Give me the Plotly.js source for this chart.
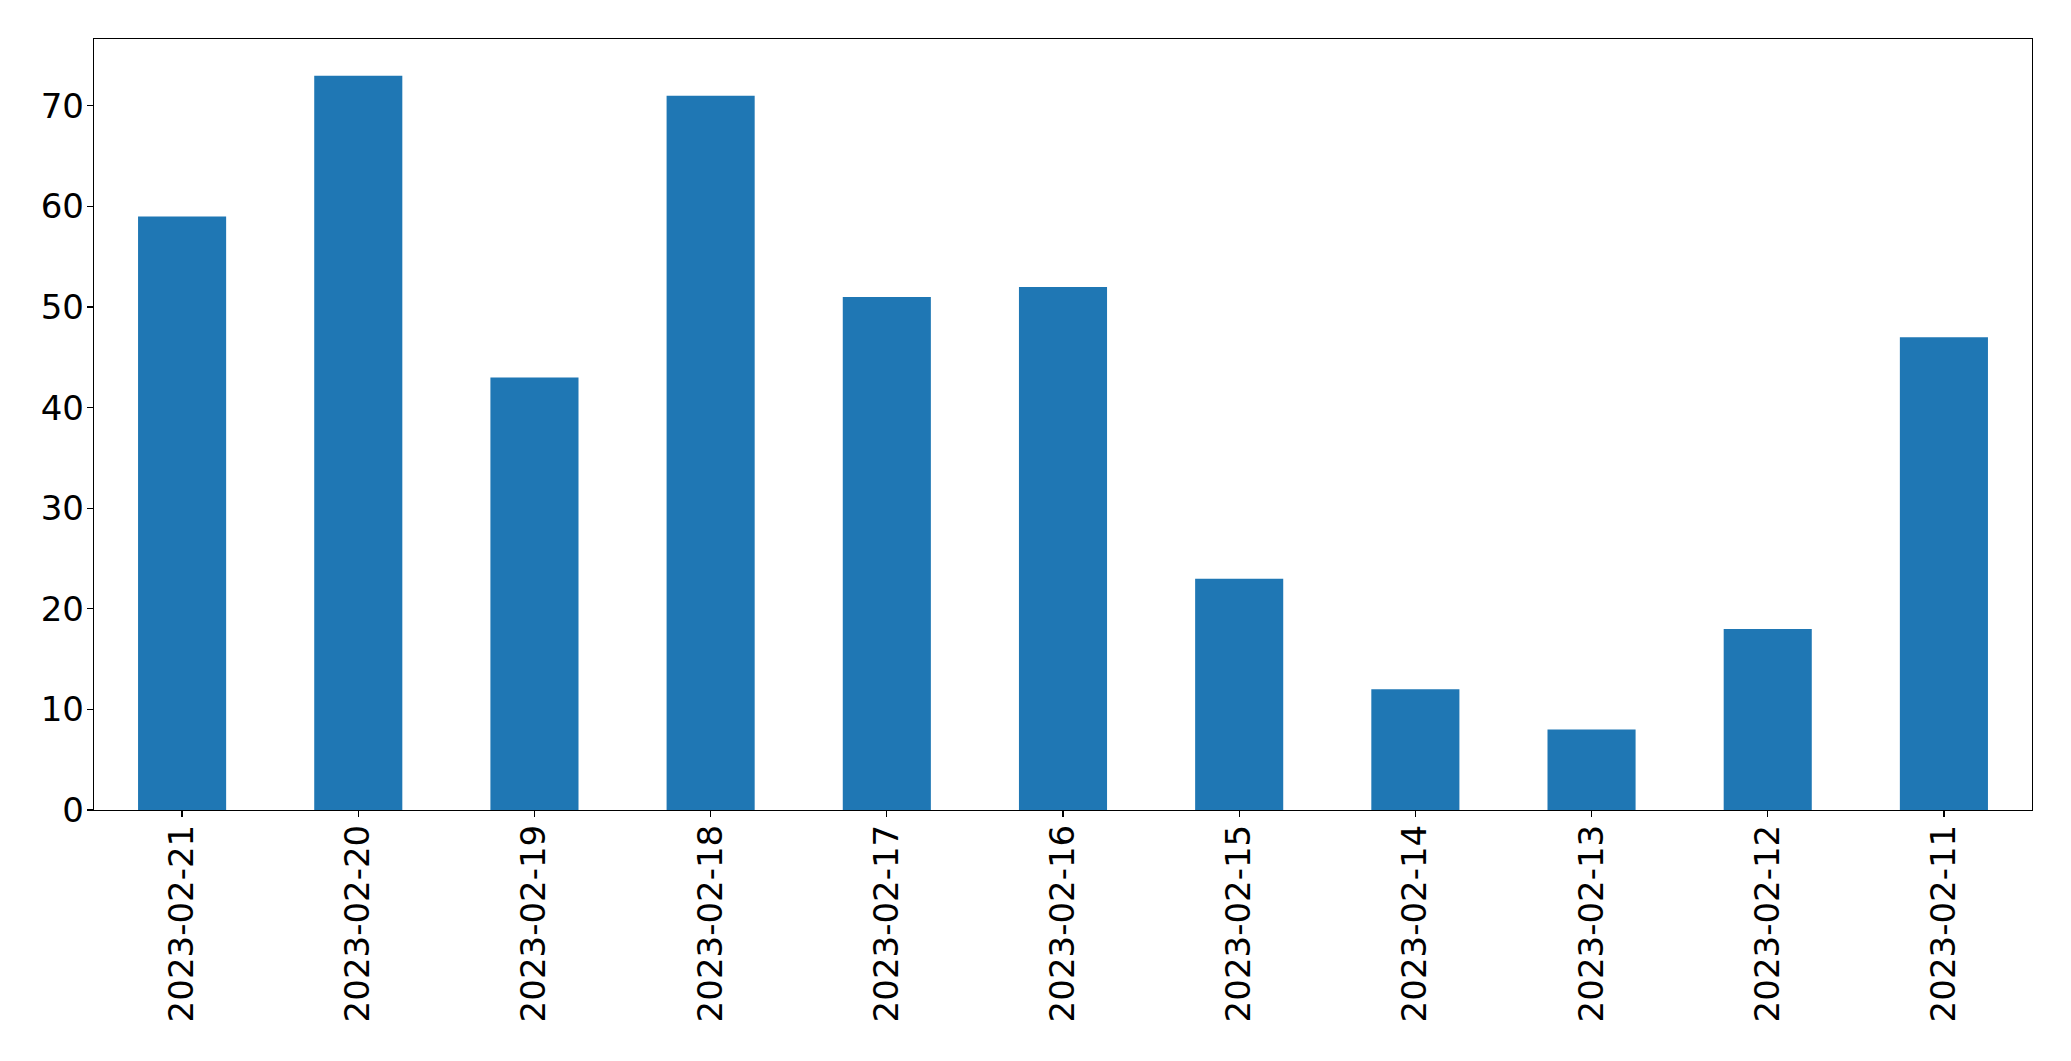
<!DOCTYPE html>
<html>
<head>
<meta charset="utf-8">
<script src="https://cdn.plot.ly/plotly-3.0.1.min.js"></script>
<style>html,body{margin:0;padding:0;background:#fff;}</style>
</head>
<body>
<div id="chart" style="width:2071px;height:1061px;"></div>
<script>
const dates = ["2023-02-21","2023-02-20","2023-02-19","2023-02-18","2023-02-17","2023-02-16","2023-02-15","2023-02-14","2023-02-13","2023-02-12","2023-02-11"];
const counts = [59, 73, 43, 71, 51, 52, 23, 12, 8, 18, 47];
const yTicks = [0, 10, 20, 30, 40, 50, 60, 70];

const trace = {
  type: 'bar',
  x: dates,
  y: counts,
  width: 0.5,
  marker: {color: '#1f77b4', line: {width: 0}},
  hoverinfo: 'x+y'
};

const layout = {
  width: 2071,
  height: 1061,
  margin: {l: 94, r: 39, t: 39, b: 251, pad: 0},
  paper_bgcolor: '#ffffff',
  plot_bgcolor: '#ffffff',
  showlegend: false,
  font: {family: 'DejaVu Sans', size: 34, color: '#000000'},
  bargap: 0.5,
  xaxis: {
    type: 'category',
    range: [-0.5, 10.5],
    tickangle: -90,
    showgrid: false,
    zeroline: false,
    showline: true,
    linecolor: '#000000',
    linewidth: 1.2,
    mirror: true,
    ticks: 'outside',
    ticklen: 6,
    tickwidth: 1.2,
    tickcolor: '#000000',
    ticklabelstandoff: -6,
    tickfont: {family: 'DejaVu Sans', size: 34, color: '#000000'}
  },
  yaxis: {
    range: [0, 76.65],
    tickmode: 'array',
    tickvals: yTicks,
    ticktext: yTicks.map(String),
    showgrid: false,
    zeroline: false,
    showline: true,
    linecolor: '#000000',
    linewidth: 1.2,
    mirror: true,
    ticks: 'outside',
    ticklen: 6,
    tickwidth: 1.2,
    tickcolor: '#000000',
    ticklabelstandoff: -4,
    tickfont: {family: 'DejaVu Sans', size: 34, color: '#000000'}
  }
};

Plotly.newPlot('chart', [trace], layout, {displayModeBar: false, staticPlot: true});
</script>
</body>
</html>
